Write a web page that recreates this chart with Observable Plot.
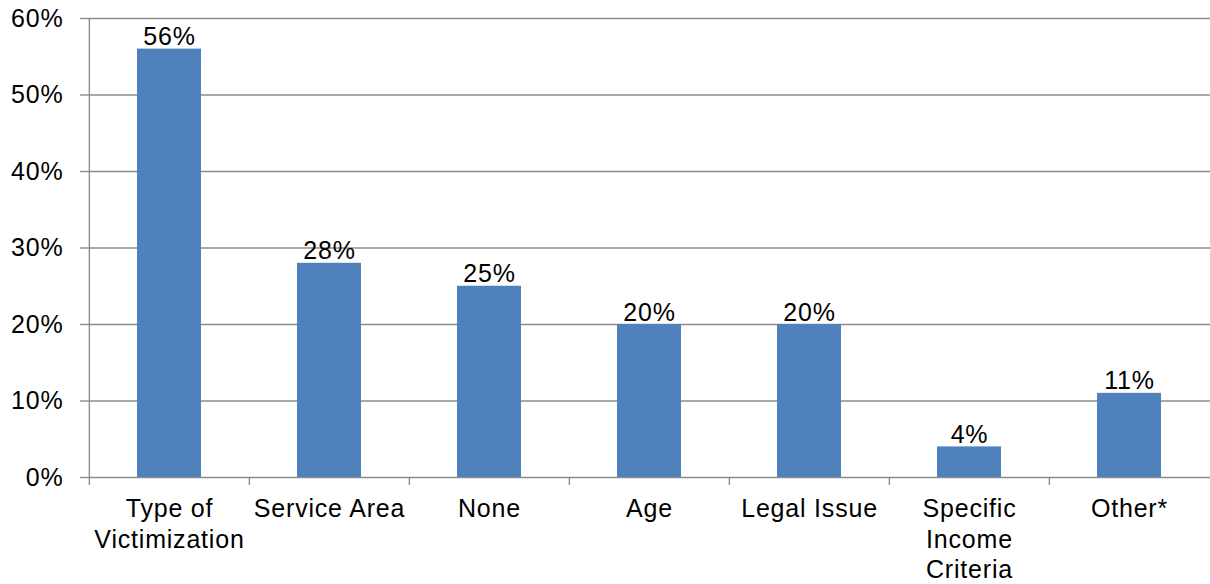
<!DOCTYPE html>
<html>
<head>
<meta charset="utf-8">
<script src="https://cdn.jsdelivr.net/npm/d3@7"></script>
<script src="https://cdn.jsdelivr.net/npm/@observablehq/plot@0.6"></script>
<style>
  html, body { margin: 0; padding: 0; background: #fff; }
  #chart svg text { letter-spacing: 0.8px; }
</style>
</head>
<body>
<div id="chart"></div>
<script>
const categories = ["Type of\nVictimization", "Service Area", "None", "Age", "Legal Issue", "Specific\nIncome\nCriteria", "Other*"];
const values = [0.56, 0.28, 0.25, 0.20, 0.20, 0.04, 0.11];
const labels = ["56%", "28%", "25%", "20%", "20%", "4%", "11%"];
const yTicks = [0, 0.1, 0.2, 0.3, 0.4, 0.5, 0.6];

const data = categories.map((c, i) => ({category: c, value: values[i], label: labels[i]}));

const W = 1210, H = 584;
const mL = 88, mR = 0, mT = 18, mB = 107;
const pIn = 0.6, pOut = 0.3;
const xs = Plot.scale({x: {type: "band", domain: categories, range: [mL, W - mR], paddingInner: pIn, paddingOuter: pOut}});
const half = xs.step / 2;
const grid = "#8c8c8c";
const fs = 25;

const chart = Plot.plot({
  width: W,
  height: H,
  marginLeft: mL,
  marginRight: mR,
  marginTop: mT,
  marginBottom: mB,
  style: {fontFamily: "'Liberation Sans', Arial, sans-serif", fontSize: fs + "px", color: "#000", background: "#fff"},
  x: {domain: categories, paddingInner: pIn, paddingOuter: pOut, label: null},
  y: {domain: [0, 0.6], label: null},
  marks: [
    Plot.ruleY(yTicks, {stroke: grid, strokeWidth: 1.4}),
    Plot.ruleX([categories[0]], {y1: 0, y2: 0.6, dx: -half, stroke: grid, strokeWidth: 1.4}),
    Plot.barY(data, {x: "category", y: "value", fill: "#4F81BD"}),
    Plot.text(data, {x: "category", y: "value", text: "label", lineAnchor: "bottom", dy: -4, fontSize: fs, fill: "#000"}),
    Plot.axisY({ticks: yTicks, tickFormat: d3.format(".0%"), tickSize: 8, tickPadding: 17, stroke: grid, strokeWidth: 1.4, fontSize: fs, fill: "#000", label: null}),
    Plot.axisX({tickSize: 8, tickFormat: () => "", dx: -half, stroke: grid, strokeWidth: 1.4, label: null}),
    Plot.axisX({tickSize: 0, tickPadding: 18, fontSize: fs, lineHeight: 1.22, fill: "#000", label: null})
  ]
});

document.getElementById("chart").appendChild(chart);
</script>
</body>
</html>
